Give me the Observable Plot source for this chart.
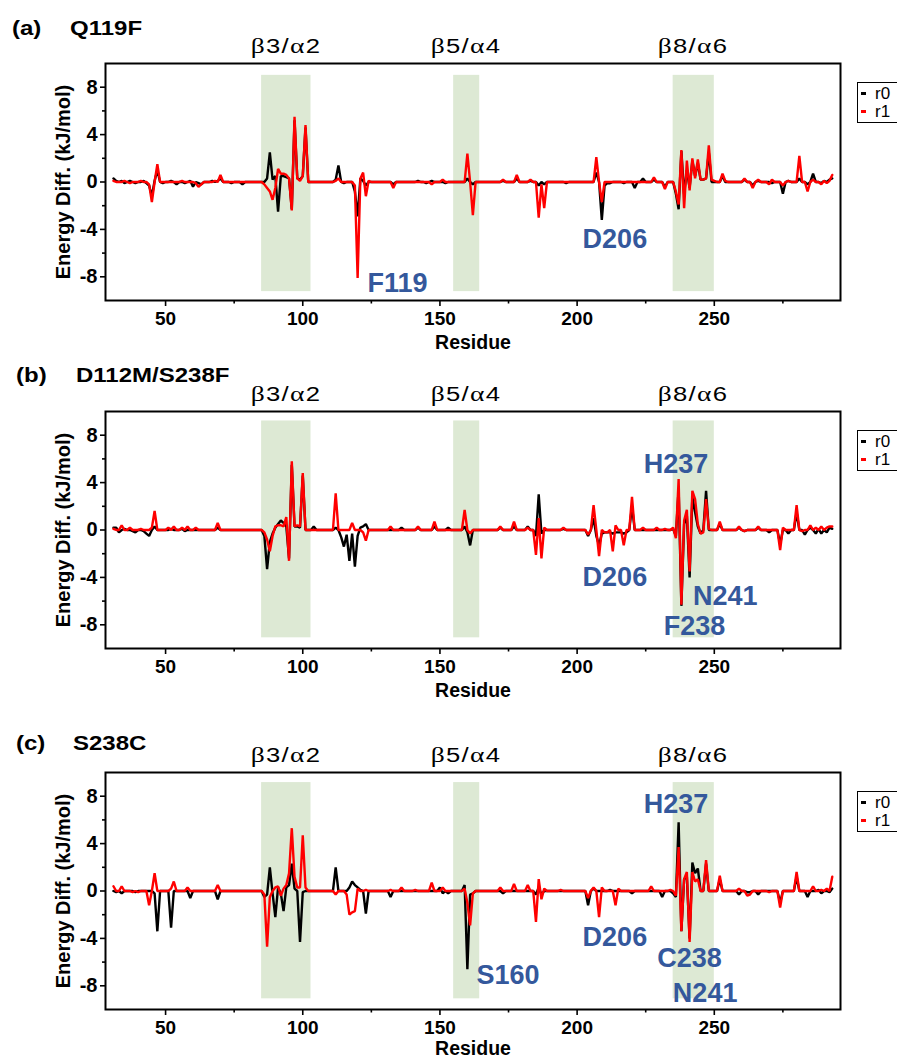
<!DOCTYPE html>
<html><head><meta charset="utf-8">
<script src="https://cdn.jsdelivr.net/npm/d3@7"></script>
<script src="https://cdn.jsdelivr.net/npm/@observablehq/plot@0.6"></script>
<style>
body{margin:0;background:#fff;}
#root{position:relative;width:897px;height:1059px;overflow:hidden;background:#fff;font-family:"Liberation Sans",Arial,sans-serif;color:#000;}
.panel{position:absolute;left:0;width:897px;height:344px;}
.panel svg{position:absolute;left:0;top:0;}
.ttl{position:absolute;font-weight:bold;font-size:20px;line-height:1;transform-origin:0 0;transform:scaleX(1.2);white-space:nowrap;}
.reg{position:absolute;font-size:20.5px;line-height:1;white-space:nowrap;transform:translateX(-50%) scaleX(1.25);letter-spacing:1px;}
.reg .g{font-family:"Liberation Serif",serif;font-size:22px;}
.leg{position:absolute;left:857px;width:60px;height:39px;border:1.3px solid #000;font-size:17px;line-height:1;}
.leg .d{position:absolute;left:3px;width:5px;height:2.5px;}
.leg .t{position:absolute;left:17px;}
</style></head><body><div id="root"></div><script>
// ---------- data ----------
const residueStart = 31; // first residue plotted; each array runs 31..293
const seriesNames = ["r0", "r1"];
const seriesColors = ["#000000", "#ff0000"];

const q119f_r0 = [
 0.3,0.1,0,0.1,-0.1,0,0.1,0,-0.1,0,
 0,0.1,-0.1,-0.3,-1.2,0.1,1.0,0,-0.1,0,
 0,0.1,0,-0.2,0,0,-0.1,0,0.1,-0.4,
 0,-0.1,-0.2,0,0,0,0.1,0,0.1,0.3,
 0,0,0,-0.1,0,0,0,-0.2,0,0,
 0,0,0,0,0,0,0.3,2.5,0.2,0.5,
 -2.5,0.5,0.5,0.4,0.3,-2.3,5.2,0.3,0.2,0.5,
 4.6,0,0,0,0,0,0,0,0,0,
 0,0.2,1.4,0,-0.1,0,0,0,-0.8,-2.9,
 0.3,0.1,-0.3,0,0,0,0,0,0,0,
 0,0,-0.2,0,0,0,0,0,0,0,
 0,0.1,0,0,-0.1,0,0.1,0,0,0,
 0,-0.1,0,0,0,0,0,0,0,0.3,
 0,-0.2,0,0,0,0,0,0,0,0,
 0,0,0.1,0,0,0,0,0.3,0,0,
 0,0,0.1,0,0,-0.3,0,-0.2,0,0,
 0,0,0,0,0,-0.1,0,0,0,0,
 0,0,0,0,0,0,0.8,0,-3.2,-0.3,
 -0.1,-0.1,0,0,0,0,-0.1,0,0,0,
 -0.5,0,0,0.3,0,0,0,0.2,0,0,
 0,-0.4,0,0,0,-1.0,-2.3,2.6,-1.0,1.0,
 -0.5,1.8,0.5,1.6,0.2,0.2,0.3,2.5,0,0,
 0,0,0.5,0,0,0,0,0,0,0,
 0.2,0,0,-0.3,0,0.1,0,0,0,0,
 -0.1,0,0,0,-1.0,0,0.1,0,0,0,
 0.3,0,0,-0.2,0,0.7,0,0,-0.1,0.1,
 0,0.2,0.3];
const q119f_r1 = [
 0.1,0,0,0,0.1,0,-0.1,0,0,0,
 0.1,0,0,-0.2,-1.7,0,1.5,0,0,0,
 0,0,0,0,0,0.1,0,0,0,0,
 -0.1,-0.4,-0.2,0,0,0,0,0.1,0,0.6,
 0,0,0,0,0,0,0,0,0,0,
 0,0,0,0,0,-0.2,-0.5,-0.8,-1.5,-0.5,
 1.1,0.7,0.7,0.6,0.3,-2.4,5.5,0.3,0.1,0.5,
 4.8,0,0,0,0,0,0,0,0,0,
 0,0.1,0.3,0,0,0,0,0,-0.3,-8.1,
 0.3,0.8,-1.2,0.1,0,0,0,0,0,0,
 0,0,-0.5,0,0,0,0,0,0,0,
 0,0,0,0,0,0,-0.2,0,0,0,
 0.2,0,0,0,0,0,0,0,0,2.4,
 0,-2.8,0,0,0,0,0,0,0,0,
 0,0,0.2,0,0,0,0,0.6,0,0,
 0,0,0.2,0,0,-3.0,-0.2,-2.2,0,0,
 0,0,0,0,0,0,0,0,0,0,
 0,0,0,0,0,0,2.1,0,-1.7,0,
 0,0,0,0,0,0,0,0,0,0,
 0,0,0,0,0,0,0,0.4,0,0,
 0,-0.6,0,0,0,-0.8,-1.9,2.7,-2.2,1.8,
 -0.7,2.0,0.3,1.9,0.2,0.2,0.3,3.1,0.2,0.1,
 0,0,0.7,0.1,0,0,0,0,0,0,
 0.3,0,0,-0.5,0,0.2,0,0,0,-0.2,
 0.2,0,0,0,-0.3,0,0.1,0,0,0,
 2.2,0,0,-0.8,0,0.2,0,0,-0.2,0.1,
 -0.1,0.1,0.6];

const d112m_r0 = [
 0.2,0.2,-0.2,0,0.1,0,0,-0.1,-0.2,0,
 0,-0.1,-0.3,-0.5,0,0.3,0,0,0,0,
 0,0.1,0,0,0,0.1,-0.1,0,0,0,
 0,0,0,0,0,0,0,0,0.2,0,
 0,0,0,0,0,0,0,0,0,0,
 0,0,0,0,0,-0.5,-3.3,-1.0,-0.3,0.2,
 0.5,0.8,0.6,0.3,-2.4,5.5,0.3,0.3,0.2,4.6,
 0,0,0,0.3,0,0,0,0,0,0,
 0,0.2,0,-0.6,-1.4,-0.4,-2.6,-0.3,-3.1,-0.5,
 0.2,0.3,0.5,0,0,0,0,0,0,0,
 0,0,0,0,0,0.2,0,0,0,0,
 0,0.2,0,0,0,0,0,0.3,0,0,
 0,0,0.2,0,0,0,0,0,0.3,-0.2,
 -1.3,0,0,0,0,0,0,0,0,0,
 0,0.2,0,0,0,0,0.3,0,0,0,
 0,0.3,0,0,-0.5,3.0,-0.3,0,0,0,
 0,0,0,0,0.1,0,0,0,0,0,
 0,0,0,-0.5,0,1.0,-0.5,-1.3,-0.3,-0.2,
 -0.2,-0.2,-0.3,-0.2,-0.2,-0.2,-0.3,-0.2,0,2.0,
 0,0,0,0,0,0,0,0,0,0,
 0,0,0,0,0.1,-0.5,3.5,-6.4,0.5,1.2,
 -4.0,2.8,1.5,0.3,-0.3,0,3.3,0,0,0,
 0,0.5,0,0,0,0,0,0,0.2,0,
 -0.1,0,0,0,0,0.2,0,0,0,-0.2,
 0,0,0,-1.2,0,0,-0.3,0,0,1.5,
 0,0,-0.4,0,0.2,0,-0.3,0.1,-0.3,0,
 -0.2,0.2,0.1];
const d112m_r1 = [
 0.1,0,0,0.4,0,0,0.2,0,0,0,
 0.1,0,0,0,0.2,1.6,0,0,0,0,
 0.2,0,0.3,0,0,0.2,0,0.3,0,0,
 0.2,0,0,0,0,0,0,0,0.6,0,
 0,0,0,0,0,0,0,0,0,0,
 0,0,0,0,0,-0.2,-0.8,-1.8,-0.5,0.3,
 0.4,0.4,0.3,1.1,-2.6,5.8,0.3,0.4,0.3,4.8,
 0,0,0,0,0,0,0,0,0,0,
 0,3.1,0,0,0,0,0,0.6,0,0,
 0,-0.2,-0.9,0,0,0,0,0,0,0,
 0,0.3,0,0,0,0,0,0,0,0,
 0,0.3,0,0,0,0,0,0.7,0,0,
 0,0,0,0,0,0,0,0,1.7,0,
 -0.3,0,0,0,0,0,0,0,0,0,
 0,0.3,0,0,0,0,0.7,0,0,0,
 0,0.2,0,0,-2.1,1.0,-2.4,0.2,0,0,
 0,0,0,0,0.2,0,0,0,0,0,
 0,0,0,-0.4,0,2.1,0,-2.2,0,-0.2,
 -0.2,0,-1.8,0.4,0,0,-1.3,0,0,2.8,
 0,0,0,0.2,0,0,0,0,0.2,0,
 0,0.1,0,0,0.2,-0.7,4.3,-6.3,0.8,1.7,
 -3.5,3.3,2.6,0.5,-0.3,-0.2,2.6,0.1,0,0,
 0,0.7,0,0,0,0,0,0,0.3,0,
 -0.1,0,0,0,0,0.3,0,0,0,0,
 0,0,0,-1.7,0.2,0,0,0,0,2.1,
 0,-0.1,0,0,0.4,0,0.2,0,0.3,0,
 0.2,0.3,0.3];

const s238c_r0 = [
 0,-0.1,0,-0.2,0,0,0,0,-0.1,0,
 0,0,0,0,0,-0.2,-3.4,0,0,0,
 0,-3.1,0,0,0,0,0,0,-0.6,0,
 0,0,0,0,0,0,0,0,-0.7,0,
 0,0,0,0,0,0,0,0,0,0,
 0,0,0,0,0,-0.5,-0.3,2.0,-0.2,-2.2,
 0.3,-0.2,-1.7,0.3,0.5,2.3,0.2,0,-4.3,-0.1,
 0,0,0,0,0,0,0,0,0,0,
 0,2.0,0,0,0,0,0.3,0.8,0.5,0.3,
 0.1,0,-1.9,0,0,0,0,0,0,0,
 0,-0.5,0,0,0,0,0,0,0,0,
 0,0,0,0,0,0,0,0,0,0.3,
 -0.2,0,-0.2,0,0,0,0,0,0.5,-6.6,
 -0.3,-0.2,0,0,0,0,0,0,0,0,
 0,0,-0.2,0,0,0,0,0,0,0,
 0,0,0,0,-0.3,0.3,-0.3,0,0,0,
 0,0,0,0,0,0,0,0,0,0,
 0,0,0,-1.2,0,0.2,0,0,0,0,
 0,0.1,0,0,0,0,0,0,0,-0.2,
 0,0,0,0,0,0,0,0,0,0,
 -0.5,0,0,0,-0.2,-0.5,5.8,-3.4,1.0,1.2,
 -4.0,2.4,1.5,1.9,0,0,2.3,0,0,0,
 0,1.0,0,0,0,0,0,0,-0.3,0,
 0,-0.1,-0.1,0,0,-0.3,0,0,0,0,
 0,0,0,-1.0,0,0,0,0,0,1.2,
 0,0,0,-0.5,0,0,0,0.1,-0.2,0,
 0,-0.1,0.2];
const s238c_r1 = [
 0.4,0,0,0.4,0,0,0,-0.1,0,-0.1,
 0,0,0,-1.2,0,1.5,0,0,0,0,
 0,0.2,0.8,0,0,0,0,0.3,0,0,
 0,0,0,0,0,0,0,0,0.5,0,
 0,0,0,0,0,0,0,0,0,0,
 0,0,0,0,0,-0.3,-4.7,-0.5,0,0.3,
 0.4,-0.4,0.2,0.5,1.5,5.3,1.2,0.3,0.3,4.7,
 0.3,0,0,0,0,0,0,0,0,0,
 0,-0.3,0,0,0,-0.3,-2.0,-1.8,-1.7,0.2,
 0,0,0.1,0,0,0,0,0,0,0,
 0,0.1,0,0,0,0.3,0,0,0,0,
 0.1,0,0,0,0,0,0.7,0,0,0,
 0.3,0,0,0,0,0,0,0,0.2,-1.0,
 -2.9,-0.2,0,0,0,0,0,0,0,0,
 0,0.3,0,0,0,0,0.6,0,0,0,
 0,0.5,0,0,-2.6,1.0,-0.7,0.2,0,0,
 0,0,0,0.1,0,0,0,0,0,0,
 0,0,0,-0.6,0,0.3,0,-2.2,0.3,0,
 0,0,0,-1.2,0.2,0,0,0,0,0,
 0,0,0,0,0,0,0.4,0,0,0,
 0,0,0,0.1,0,-0.4,3.7,-3.4,1.0,1.6,
 -4.3,1.6,0.8,1.0,0,0,2.6,0,0,0,
 0,1.3,0,0,0,0,0,0,0.2,0,
 0,-0.4,-0.3,0,0,0,0,0,0,-0.1,
 0,0,0,-1.4,0,0,0,0,0,1.6,
 0,0,0,0,0,0.4,0,0,0.1,0,
 0.2,0,1.2];

// panel headings
const panelLetters = ["(a)", "(b)", "(c)"];
const panelNames = ["Q119F", "D112M/S238F", "S238C"];

// shaded secondary-structure regions (residue ranges)
const regionGreek1 = ["β", "β", "β"];
const regionNum1 = ["3", "5", "8"];
const regionGreek2 = ["α", "α", "α"];
const regionNum2 = ["2", "4", "6"];
const regionStart = [85, 155, 235];
const regionEnd = [103, 164.5, 250];
const shadeTop = [9.0, 9.2, 9.15];
const shadeBottom = [-9.25, -9.1, -9.1];

// residue annotations (text, anchor residue, anchor energy)
const annTextA = ["F119", "D206"];
const annResA = [123.6, 202.0];
const annValA = [-9.3, -5.6];
const annTextB = ["H237", "D206", "N241", "F238"];
const annResB = [224.3, 202.0, 242.2, 231.6];
const annValB = [4.85, -4.7, -6.37, -8.9];
const annTextC = ["H237", "S160", "D206", "C238", "N241"];
const annResC = [224.3, 163.3, 202.0, 229.2, 234.9];
const annValC = [6.6, -7.83, -4.68, -6.45, -9.37];

// axes
const xDomain = [28.1, 296];
const yDomain = [-10, 10];
const xTicks = [50, 100, 150, 200, 250];
const xMinorTicks = [75, 125, 175, 225, 275];
const yTicks = [-8, -4, 0, 4, 8];
const yMinorTicks = [-6, -2, 2, 6];
const xLabel = "Residue";
const yLabel = "Energy Diff. (kJ/mol)";

// ---------- layout ----------
const panelTop = [1, 349, 710];
const titleBaseline = [34, 33, 40];
const letterLeft = [12, 16, 16];
const nameLeft = [70, 76, 73];
const xLabelOffset = [48, 48, 45];
const shadeColor = "#dde9d4";
const annColor = "#34589c";

const root = document.getElementById("root");
const panels = [
  {r0: q119f_r0, r1: q119f_r1, at: annTextA, ax: annResA, ay: annValA},
  {r0: d112m_r0, r1: d112m_r1, at: annTextB, ax: annResB, ay: annValB},
  {r0: s238c_r0, r1: s238c_r1, at: annTextC, ax: annResC, ay: annValC}
];

panels.forEach((p, i) => {
  const div = document.createElement("div");
  div.className = "panel";
  div.style.top = panelTop[i] + "px";
  root.appendChild(div);

  const lines = [p.r0, p.r1].map((arr, s) =>
    arr.map((v, k) => ({residue: residueStart + k, value: v, series: seriesNames[s]})));
  const regions = regionStart.map((s, k) => ({x1: s, x2: regionEnd[k], y1: shadeBottom[i], y2: shadeTop[i]}));
  const anns = p.at.map((t, k) => ({text: t, x: p.ax[k], y: p.ay[k]}));

  const chart = Plot.plot({
    width: 897, height: 344,
    marginTop: 62, marginBottom: 45, marginLeft: 105, marginRight: 57,
    style: {fontFamily: "'Liberation Sans', Arial, sans-serif", fontSize: "19px", fontWeight: "bold", color: "#000", background: "transparent", overflow: "visible"},
    x: {domain: xDomain},
    y: {domain: yDomain},
    marks: [
      Plot.rect(regions, {x1: "x1", x2: "x2", y1: "y1", y2: "y2", fill: shadeColor}),
      Plot.line(lines[0], {x: "residue", y: "value", stroke: seriesColors[0], strokeWidth: 2.4, strokeLinejoin: "miter"}),
      Plot.line(lines[1], {x: "residue", y: "value", stroke: seriesColors[1], strokeWidth: 2.4, strokeLinejoin: "miter"}),
      Plot.text(anns, {x: "x", y: "y", text: "text", textAnchor: "start", lineAnchor: "bottom", fill: annColor, fontSize: 27, fontWeight: "bold"}),
      Plot.axisX({ticks: xTicks, tickSize: 6, tickPadding: 5, strokeWidth: 1.6, tickFormat: d => String(d), label: null}),
      Plot.axisX({ticks: xMinorTicks, tickSize: 3.5, strokeWidth: 1.6, tickFormat: () => "", label: null}),
      Plot.text([xLabel], {frameAnchor: "bottom", dy: xLabelOffset[i], text: d => d, lineAnchor: "bottom", fontSize: 19.5, fontWeight: "bold"}),
      Plot.axisY({ticks: yTicks, tickSize: 5, tickPadding: 3, strokeWidth: 1.6, tickFormat: d => String(d), label: yLabel, labelAnchor: "center", labelOffset: 50, labelArrow: "none", fontSize: 20}),
      Plot.axisY({ticks: yMinorTicks, tickSize: 3, strokeWidth: 1.6, tickFormat: () => "", label: null}),
      Plot.frame({stroke: "#000", strokeWidth: 2})
    ]
  });
  div.appendChild(chart);

  // panel title
  const base = titleBaseline[i];
  const l = document.createElement("div");
  l.className = "ttl"; l.textContent = panelLetters[i];
  l.style.left = letterLeft[i] + "px"; l.style.top = (base - 17) + "px";
  div.appendChild(l);
  const n = document.createElement("div");
  n.className = "ttl"; n.textContent = panelNames[i];
  n.style.left = nameLeft[i] + "px"; n.style.top = (base - 17) + "px";
  div.appendChild(n);

  // region labels above the frame
  const xs = chart.scale("x");
  regionStart.forEach((s, k) => {
    const r = document.createElement("div");
    r.className = "reg";
    r.innerHTML = `<span class="g">${regionGreek1[k]}</span>${regionNum1[k]}/<span class="g">${regionGreek2[k]}</span>${regionNum2[k]}`;
    r.style.left = xs.apply((s + regionEnd[k]) / 2) + "px";
    r.style.top = (62 - 11 - 17.5) + "px";
    div.appendChild(r);
  });

  // legend
  const lg = document.createElement("div");
  lg.className = "leg";
  lg.style.top = (62 + 19) + "px";
  seriesNames.forEach((name, s) => {
    const d = document.createElement("div");
    d.className = "d"; d.style.background = seriesColors[s]; d.style.top = (9 + s * 18) + "px";
    lg.appendChild(d);
    const t = document.createElement("div");
    t.className = "t"; t.textContent = name; t.style.top = (2 + s * 18) + "px";
    lg.appendChild(t);
  });
  div.appendChild(lg);
});
</script></body></html>
